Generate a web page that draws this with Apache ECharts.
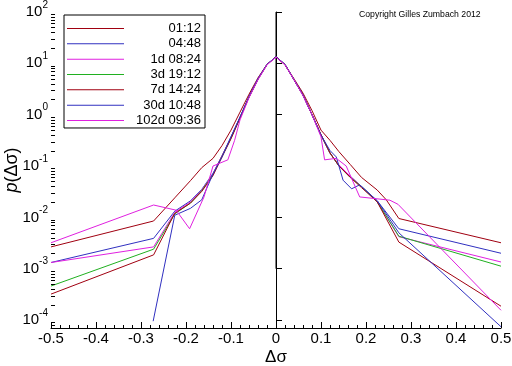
<!DOCTYPE html>
<html>
<head>
<meta charset="utf-8">
<script src="https://cdn.jsdelivr.net/npm/echarts@6/dist/echarts.min.js"></script>
<style>html,body{margin:0;padding:0;background:#fff;}#c{width:512px;height:366px;}</style>
</head>
<body>
<div id="c"></div>
<script>
// ---- data (p values) ----
const seriesNames = ['01:12', '04:48', '1d 08:24', '3d 19:12', '7d 14:24', '30d 10:48', '102d 09:36'];
const seriesColors = ['#a00010', '#3030c0', '#e020e0', '#20b020', '#a00010', '#3030c0', '#e020e0'];

const s01_12 = [[-0.5,0.00266],[-0.272,0.0085],[-0.225,0.024],[-0.19,0.052],[-0.165,0.093],[-0.14,0.141],[-0.12,0.25],[-0.1,0.5],[-0.08,1.12],[-0.06,2.5],[-0.04,5.25],[-0.02,9.55],[0,13.2],[0.02,9.33],[0.04,5.0],[0.06,2.63],[0.08,1.2],[0.1,0.5],[0.12,0.316],[0.14,0.19],[0.165,0.107],[0.19,0.06],[0.225,0.034],[0.245,0.022],[0.273,0.0095],[0.5,0.0032]];
const s04_48 = [[-0.5,0.00132],[-0.272,0.0039],[-0.225,0.0132],[-0.19,0.021],[-0.165,0.035],[-0.14,0.072],[-0.12,0.158],[-0.1,0.37],[-0.08,0.89],[-0.06,2.24],[-0.04,5.0],[-0.02,9.55],[0,13.5],[0.02,9.55],[0.04,4.8],[0.06,2.4],[0.08,1.0],[0.1,0.4],[0.12,0.178],[0.14,0.1],[0.165,0.063],[0.19,0.04],[0.225,0.021],[0.273,0.006],[0.5,0.002]];
const s1d_08_24 = [[-0.5,0.00132],[-0.272,0.00266],[-0.225,0.0125],[-0.19,0.02],[-0.165,0.034],[-0.14,0.07],[-0.12,0.16],[-0.1,0.355],[-0.08,0.89],[-0.06,2.2],[-0.04,5.0],[-0.02,9.5],[0,13.5],[0.02,9.5],[0.04,4.8],[0.06,2.4],[0.08,1.0],[0.1,0.4],[0.12,0.178],[0.14,0.105],[0.165,0.063],[0.19,0.04],[0.225,0.02],[0.273,0.0042],[0.5,0.00135]];
const s3d_19_12 = [[-0.5,0.00046],[-0.272,0.0024],[-0.225,0.0117],[-0.19,0.019],[-0.165,0.033],[-0.14,0.068],[-0.12,0.155],[-0.1,0.35],[-0.08,0.88],[-0.06,2.2],[-0.04,4.9],[-0.02,9.5],[0,13.5],[0.02,9.5],[0.04,4.8],[0.06,2.4],[0.08,1.0],[0.1,0.4],[0.12,0.18],[0.14,0.1],[0.165,0.06],[0.19,0.04],[0.225,0.02],[0.273,0.0043],[0.5,0.00112]];
const s7d_14_24 = [[-0.5,0.00032],[-0.272,0.00186],[-0.225,0.012],[-0.19,0.019],[-0.165,0.032],[-0.14,0.065],[-0.12,0.15],[-0.1,0.34],[-0.08,0.85],[-0.06,2.2],[-0.04,4.9],[-0.02,9.4],[0,13.5],[0.02,9.4],[0.04,4.8],[0.06,2.4],[0.08,1.0],[0.1,0.41],[0.12,0.18],[0.14,0.1],[0.165,0.06],[0.19,0.038],[0.225,0.02],[0.273,0.0033],[0.5,0.000186]];
const s30d_10_48 = [[-0.273,0.000095],[-0.225,0.011],[-0.19,0.015],[-0.165,0.022],[-0.14,0.07],[-0.12,0.15],[-0.1,0.37],[-0.08,0.9],[-0.06,2.24],[-0.04,5.0],[-0.02,9.5],[0,13.5],[0.02,9.5],[0.04,4.8],[0.06,2.4],[0.08,1.0],[0.1,0.4],[0.12,0.2],[0.134,0.15],[0.149,0.053],[0.168,0.036],[0.186,0.043],[0.225,0.021],[0.273,0.005],[0.5,0.000074]];
const s102d_09_36 = [[-0.5,0.0032],[-0.272,0.0174],[-0.222,0.0138],[-0.192,0.006],[-0.16,0.025],[-0.14,0.1],[-0.107,0.132],[-0.092,0.316],[-0.08,0.79],[-0.06,2.14],[-0.04,4.8],[-0.02,9.33],[0,13.2],[0.02,9.33],[0.04,4.8],[0.06,2.34],[0.08,1.0],[0.1,0.37],[0.108,0.132],[0.134,0.141],[0.156,0.1],[0.186,0.025],[0.253,0.0216],[0.271,0.018],[0.5,0.000155]];
const allSeries = [s01_12, s04_48, s1d_08_24, s3d_19_12, s7d_14_24, s30d_10_48, s102d_09_36];

const zeroLine = [[0, 0.001], [0, 100]];
const xTicks = { min: -0.5, max: 0.5, step: 0.1 };
const yRange = { min: 7e-5, max: 100 };
const yMinorMultipliers = [2, 3, 4, 5, 6, 7, 8, 9];
const yDecades = [-5, -4, -3, -2, -1, 0, 1];
const copyrightText = 'Copyright Gilles Zumbach 2012';

// minor ticks on the log axis (axis decoration)
const yMinorTicks = [];
yDecades.forEach(function (e) {
  yMinorMultipliers.forEach(function (k) {
    const v = k * Math.pow(10, e);
    if (v > yRange.min && v < yRange.max) yMinorTicks.push([xTicks.min, v]);
  });
});

const FONT = 'Liberation Sans';
const chart = echarts.init(document.getElementById('c'), null, { renderer: 'canvas' });

const series = allSeries.map(function (d, i) {
  return {
    name: seriesNames[i],
    type: 'line',
    data: d,
    symbol: 'none',
    showSymbol: false,
    animation: false,
    lineStyle: { color: seriesColors[i], width: 1 },
    itemStyle: { color: seriesColors[i] },
    z: 3
  };
});
series.unshift({
  name: 'zero',
  type: 'line',
  data: zeroLine,
  symbol: 'none',
  animation: false,
  lineStyle: { color: '#000', width: 1 },
  z: 2
});
series.push({
  name: 'yminor',
  type: 'custom',
  data: yMinorTicks,
  animation: false,
  silent: true,
  z: 5,
  renderItem: function (params, api) {
    const p = api.coord([api.value(0), api.value(1)]);
    const y = Math.round(p[1]) + 0.5;
    return {
      type: 'line',
      shape: { x1: p[0], y1: y, x2: p[0] + 4, y2: y },
      style: { stroke: '#000', lineWidth: 1 }
    };
  }
});

chart.setOption({
  animation: false,
  backgroundColor: '#fff',
  title: {
    text: copyrightText,
    left: 359,
    top: 10,
    padding: 0,
    textStyle: { fontFamily: FONT, fontSize: 8.7, fontWeight: 'normal', color: '#000' }
  },
  legend: {
    data: seriesNames,
    orient: 'vertical',
    left: 64,
    top: 15,
    padding: [6, 4, 0, 3],
    icon: 'rect',
    itemWidth: 57,
    itemHeight: 1,
    itemGap: 0.33,
    borderColor: '#000',
    borderWidth: 1,
    selectedMode: false,
    formatter: function (name) { return '{a|' + name + '}'; },
    textStyle: {
      fontFamily: FONT, fontSize: 13, color: '#000', lineHeight: 15,
      rich: { a: { fontFamily: FONT, fontSize: 13, color: '#000', width: 72, align: 'right', lineHeight: 15 } }
    }
  },
  grid: { left: 51, right: 11, top: 12, bottom: 38, containLabel: false, outerBoundsMode: 'none' },
  xAxis: {
    type: 'value',
    min: xTicks.min,
    max: xTicks.max,
    interval: xTicks.step,
    name: 'Δσ',
    nameLocation: 'middle',
    nameGap: 21,
    nameMoveOverlap: false,
    nameTextStyle: { fontFamily: FONT, fontSize: 17, color: '#000' },
    axisLine: { show: true, onZero: false, lineStyle: { color: '#000', width: 1 } },
    axisTick: { show: true, inside: true, length: 6, lineStyle: { color: '#000' } },
    minorTick: { show: true, splitNumber: 5, length: 3, lineStyle: { color: '#000' } },
    splitLine: { show: false },
    minorSplitLine: { show: false },
    axisLabel: { fontFamily: FONT, fontSize: 15, color: '#000', margin: 3 }
  },
  yAxis: {
    type: 'log',
    logBase: 10,
    min: yRange.min,
    max: yRange.max,
    name: '{i|p}(Δσ)',
    nameLocation: 'middle',
    nameGap: 30,
    nameMoveOverlap: false,
    nameRotate: 90,
    nameTextStyle: {
      fontFamily: FONT, fontSize: 18, color: '#000',
      rich: { i: { fontFamily: FONT, fontSize: 18, fontStyle: 'italic', color: '#000' } }
    },
    axisLine: { show: true, lineStyle: { color: '#000', width: 1 } },
    axisTick: { show: true, inside: true, length: 6, lineStyle: { color: '#000' } },
    splitLine: { show: false },
    axisLabel: {
      margin: 3,
      formatter: function (v) {
        const e = Math.log10(v);
        const r = Math.round(e);
        if (Math.abs(e - r) > 1e-6) return '';
        return '{b|10}{s|' + r + '}';
      },
      rich: {
        b: { fontFamily: FONT, fontSize: 15, color: '#000', lineHeight: 24 },
        s: { fontFamily: FONT, fontSize: 10, color: '#000', verticalAlign: 'top', lineHeight: 12 }
      }
    }
  },
  series: series
});
</script>
</body>
</html>
